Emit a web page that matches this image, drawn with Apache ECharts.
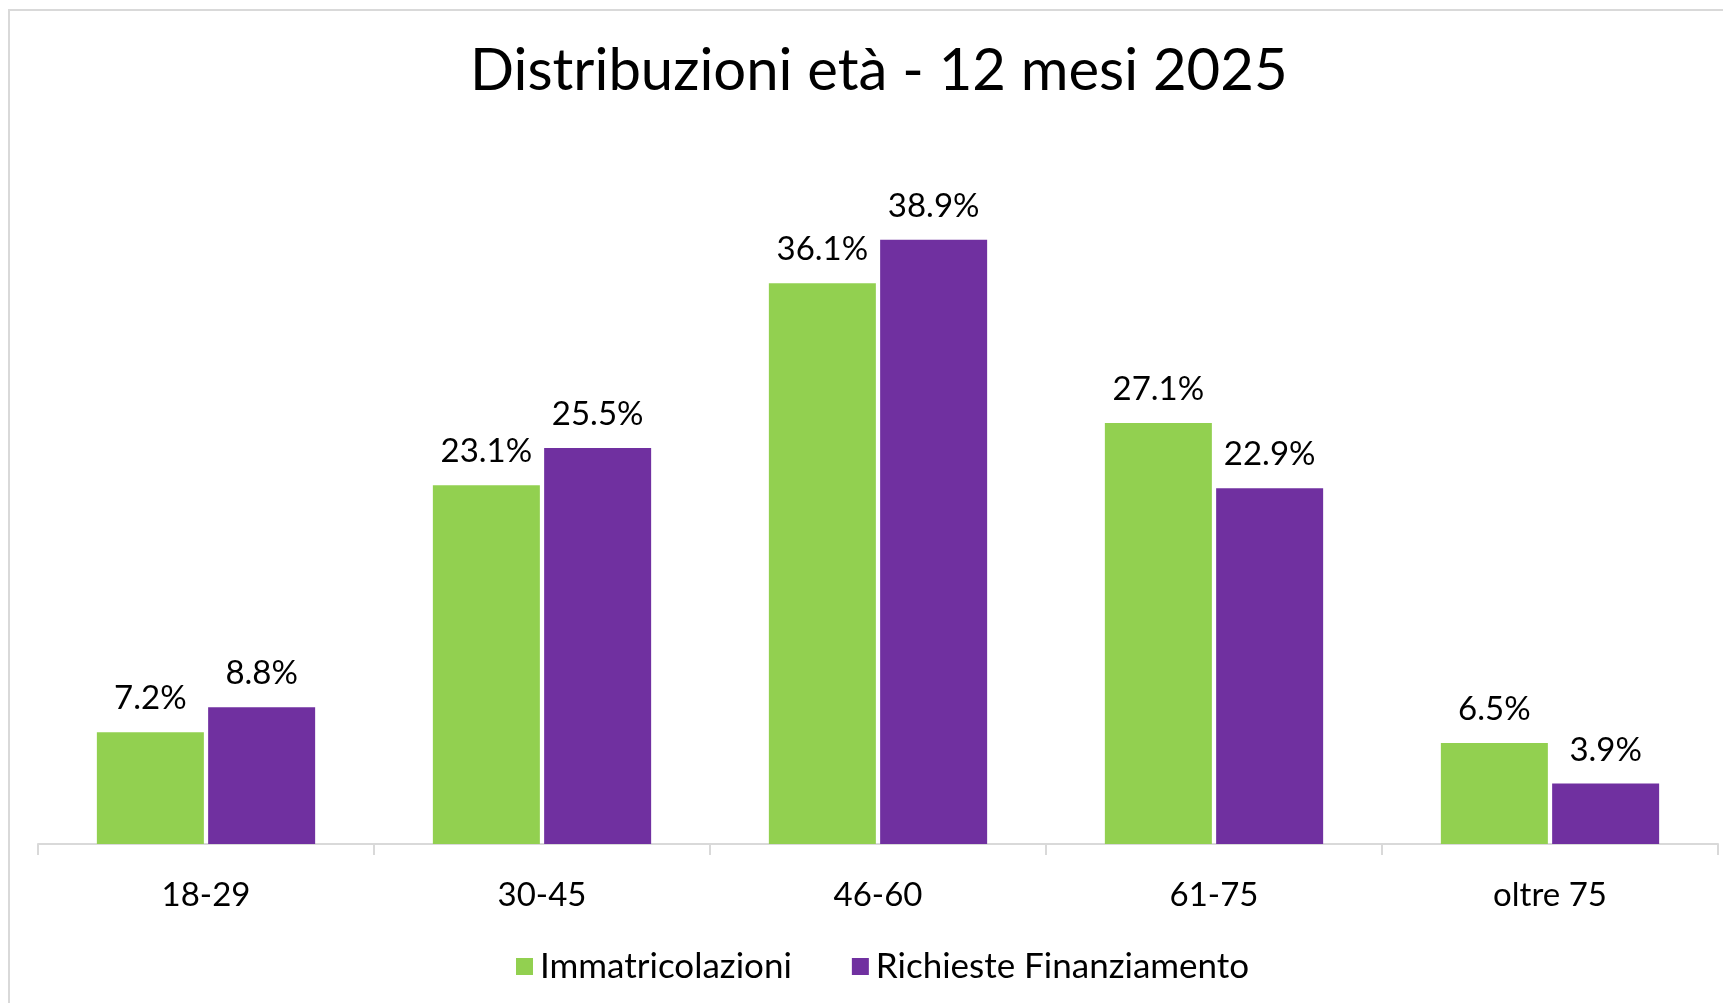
<!DOCTYPE html>
<html>
<head>
    <meta charset="utf-8">
    <title>Distribuzioni età</title>
    <script src="https://cdn.jsdelivr.net/npm/echarts@6/dist/echarts.min.js"></script>
    <style>
        html, body { margin: 0; padding: 0; background: #ffffff; overflow: hidden; }
        #chart { width: 1723px; height: 1003px; }
    </style>
</head>
<body>
<div id="chart"></div>
<script>
    // dati
    var categorie = ['18-29', '30-45', '46-60', '61-75', 'oltre 75'];
    var immatricolazioni = [7.2, 23.1, 36.1, 27.1, 6.5];
    var richieste = [8.8, 25.5, 38.9, 22.9, 3.9];
    var nomiSerie = ['Immatricolazioni', 'Richieste Finanziamento'];

    var font = 'Lato, "Open Sans", sans-serif';

    var chart = echarts.init(document.getElementById('chart'));

    var etichetta = {
        show: true,
        position: 'top',
        distance: 17,
        color: '#000000',
        fontFamily: font,
        fontSize: 33,
        formatter: function (p) {
            return p.value.toFixed(1) + '%';
        }
    };

    var option = {
        backgroundColor: '#ffffff',
        animation: false,
        title: {
            text: 'Distribuzioni età - 12 mesi 2025',
            left: 465,
            top: 37,
            textStyle: {
                fontFamily: font,
                fontSize: 58,
                fontWeight: 'normal',
                color: '#000000'
            }
        },
        legend: {
            data: nomiSerie,
            left: 511,
            top: 944,
            itemWidth: 17,
            itemHeight: 17,
            itemGap: 60,
            icon: 'rect',
            textStyle: {
                fontFamily: font,
                fontSize: 35,
                color: '#000000',
                padding: [0, 0, 0, 2]
            }
        },
        grid: {
            left: 38,
            right: 5,
            top: 145,
            bottom: 159
        },
        xAxis: {
            type: 'category',
            data: categorie,
            axisLine: { lineStyle: { color: '#d9d9d9', width: 2 } },
            axisTick: { show: true, length: 11, lineStyle: { color: '#d9d9d9', width: 2 } },
            axisLabel: {
                margin: 35,
                color: '#000000',
                fontFamily: font,
                fontSize: 33
            }
        },
        yAxis: {
            type: 'value',
            min: 0,
            max: 45,
            show: false,
            splitLine: { show: false }
        },
        graphic: [{
            type: 'rect',
            shape: { x: 9, y: 10, width: 2000, height: 2000 },
            style: { fill: 'none', stroke: '#d9d9d9', lineWidth: 2 },
            silent: true
        }],
        series: [
            {
                name: nomiSerie[0],
                type: 'bar',
                data: immatricolazioni,
                barWidth: 107,
                barGap: '4%',
                itemStyle: { color: '#92d050' },
                label: etichetta
            },
            {
                name: nomiSerie[1],
                type: 'bar',
                data: richieste,
                barWidth: 107,
                barGap: '4%',
                itemStyle: { color: '#7030a0' },
                label: etichetta
            }
        ]
    };

    chart.setOption(option);

    window.onresize = function () {
        chart.resize();
    };
</script>
</body>
</html>
